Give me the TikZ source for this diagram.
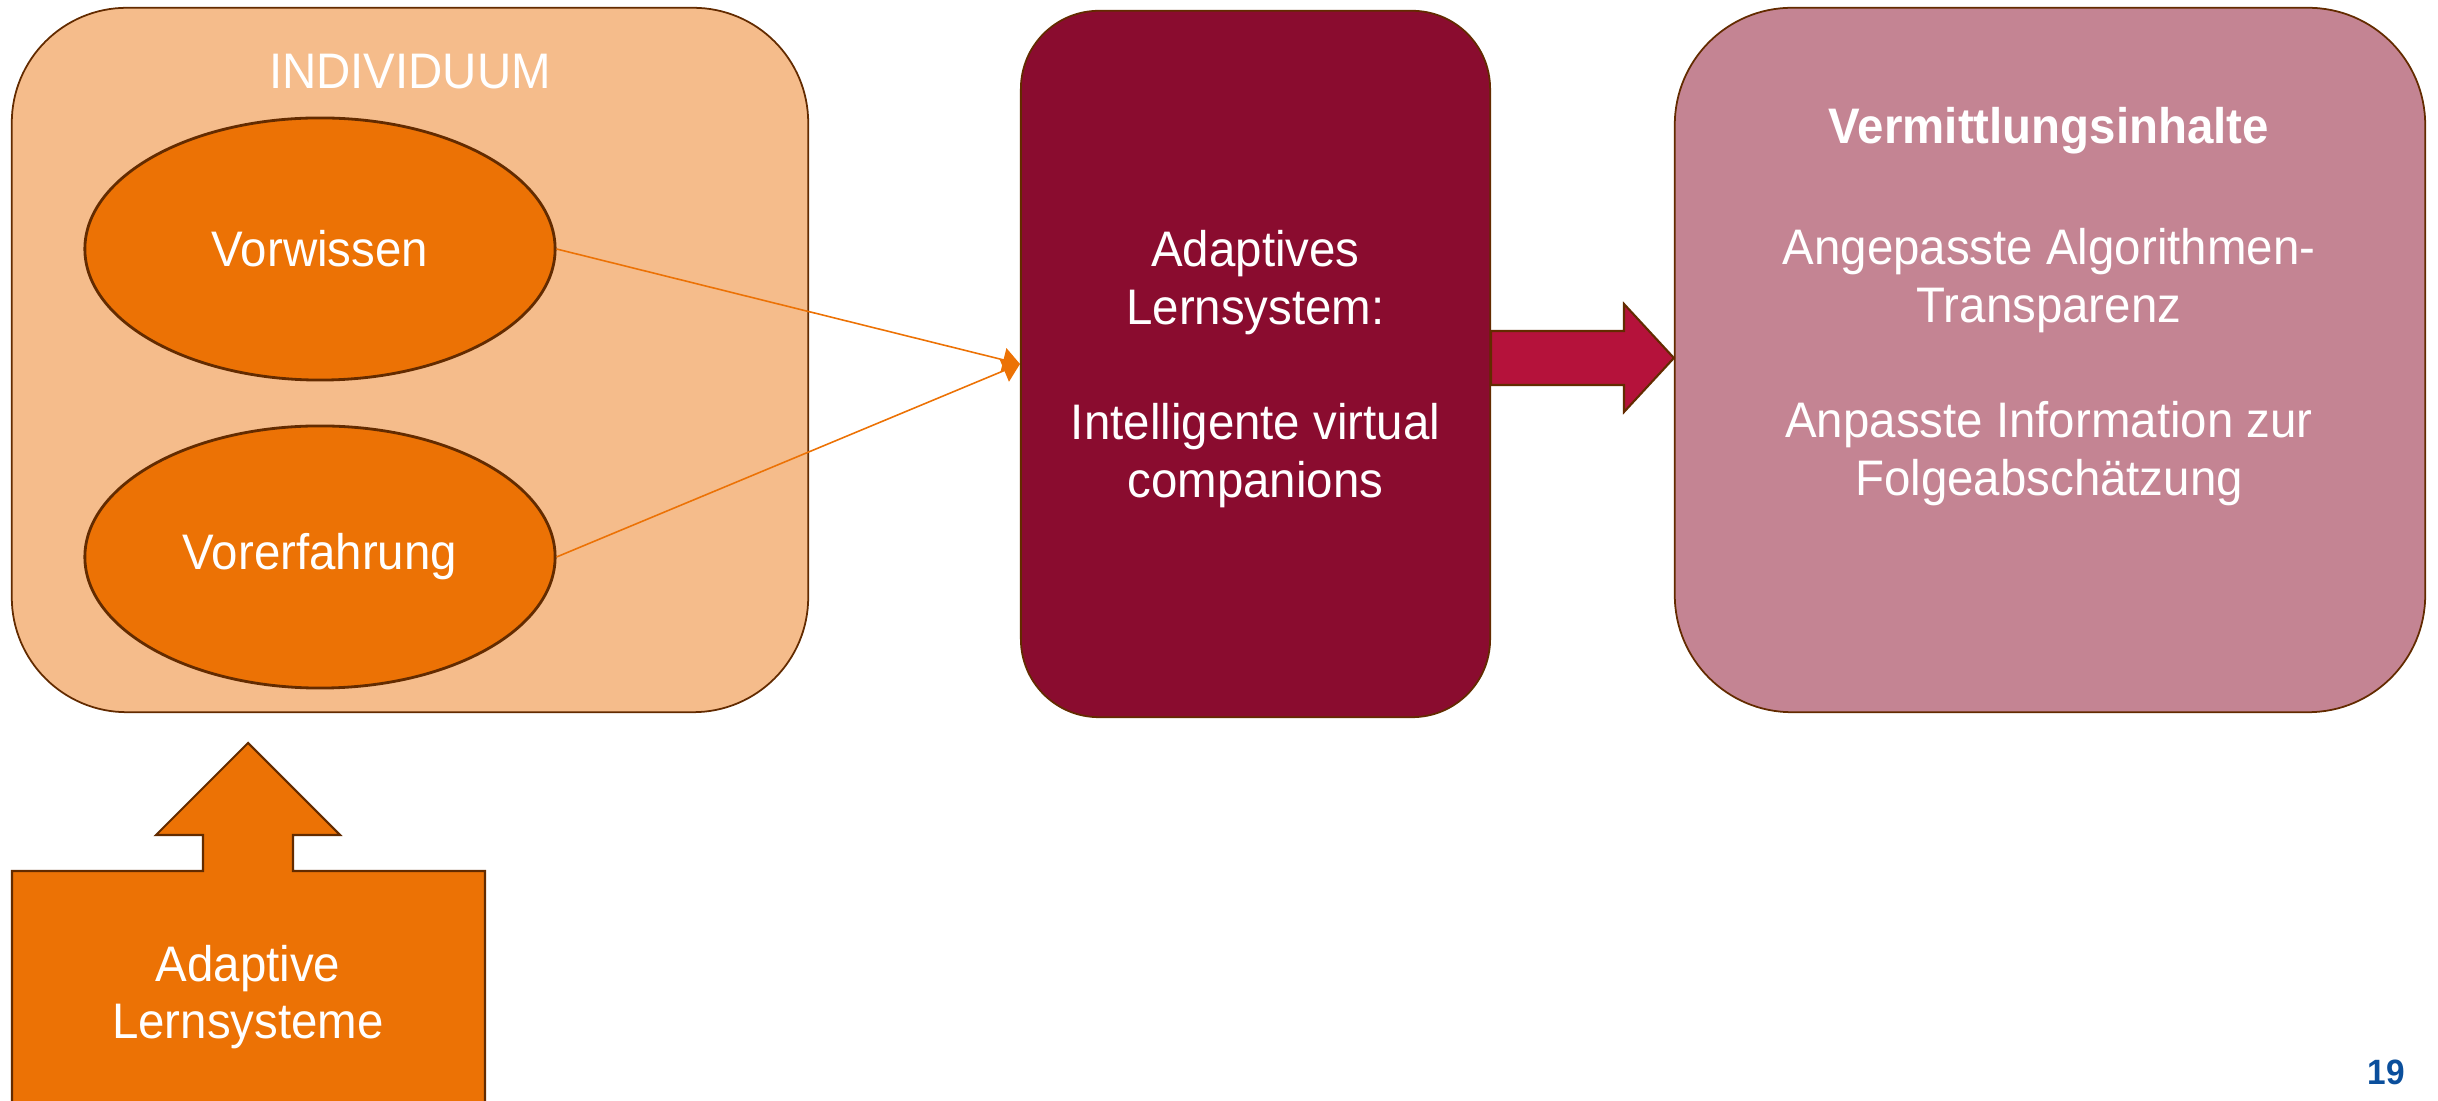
\documentclass[tikz,border=0pt]{standalone}
\usepackage{fontspec}
\setmainfont[FakeStretch=0.95]{Liberation Sans}
\usetikzlibrary{shapes.geometric,
                calc, %for the block arrow corners
                arrows.meta,
                positioning}

\definecolor{lightorange}{HTML}{F5BC8B}
\definecolor{darkorange}{HTML}{EC7205}
\definecolor{wine}{HTML}{8A0C2F}
\definecolor{crimson}{HTML}{B5123B}
\definecolor{rose}{HTML}{C48493}
\definecolor{edge}{HTML}{632B00}
\definecolor{pageblue}{HTML}{0B4F9C}

\begin{document}
\begin{tikzpicture}[x=0.01cm, y=-0.01cm,
                    every node/.style={font=\fontsize{14.2pt}{16.4pt}\selectfont, text=white, align=center},
                    box/.style={draw=edge, line width=0.5pt, rounded corners=#1, inner sep=0},
                    ell/.style={draw=edge, line width=0.8pt, ellipse, fill=darkorange, minimum width=4.7cm, minimum height=2.62cm},
                    feed/.style={-{Triangle[length=1.7mm, width=2.4mm]}, line width=0.45pt, darkorange},
                    bigarrow/.style={draw=edge, line width=0.6pt, fill=crimson, line join=miter},
                    callout/.style={draw=edge, line width=0.6pt, fill=darkorange, line join=miter}
                    ]
    \useasboundingbox (0,0) rectangle (2438,1101);
    \clip (0,0) rectangle (2438,1101);

    % boxes
    \node[box=1.15cm, fill=lightorange, minimum width=7.96cm, minimum height=7.04cm] at (410,360)    (ind){};
    \node[box=0.78cm, fill=wine, minimum width=4.69cm, minimum height=7.06cm]        at (1255.5,364) (mid){};
    \node[box=1.17cm, fill=rose, minimum width=7.5cm, minimum height=7.04cm]         at (2050,360)   (rgt){};

    % texts in the boxes
    \node at (410,72)  (indlabel) {INDIVIDUUM};
    \node at (1255.5,369) (midtext)
         {Adaptives\\Lernsystem:\\\mbox{}\\Intelligente virtual\\companions};
    \node[font=\fontsize{14.2pt}{16.4pt}\selectfont\bfseries] at (2049,131) (rgtlabel) {Vermittlungsinhalte};
    \node at (2049,367) (rgttext)
         {Angepasste Algorithmen-\\Transparenz\\\mbox{}\\Anpasste Information zur\\Folgeabschätzung};

    % ellipses
    \node[ell] at (320,249) (vw){Vorwissen};
    \node[ell] at (320,557) (ve){Vorerfahrung};

    \draw[feed] (vw.east) -- (mid.west);
    \draw[feed] (ve.east) -- (mid.west);

    % block arrow to the right box
    \coordinate (axis) at ($(mid.east)+(0,-6)$);
    \draw[bigarrow] ($(axis)+(0,-27)$) -- ++(133,0) -- ++(0,-27) -- ($(rgt.west)+(0,-2)$)
                    -- ($(axis)+(133,54)$) -- ++(0,-27) -- ($(axis)+(0,27)$) -- cycle;

    % up arrow callout
    \draw[callout] (12,1115) -- (12,871) -- (203,871) -- (203,835) -- (156,835) -- (248,743)
                   -- (340,835) -- (293,835) -- (293,871) -- (485,871) -- (485,1115) -- cycle;
    \node at (248,997) (lern) {Adaptive\\Lernsysteme};

    % page number
    \node[font=\fontsize{10pt}{12pt}\selectfont\bfseries, text=pageblue] at (2386,1072) (page){19};

\end{tikzpicture}
\end{document}
